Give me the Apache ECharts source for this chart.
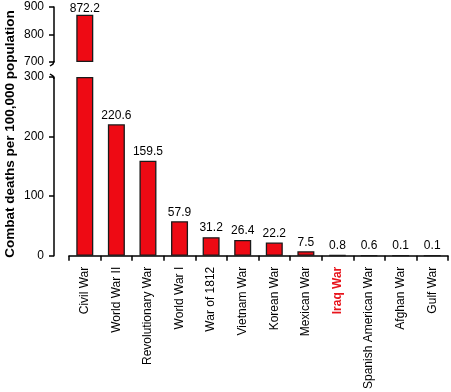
<!DOCTYPE html>
<html><head><meta charset="utf-8">
<script src="https://cdn.jsdelivr.net/npm/echarts@6/dist/echarts.min.js"></script>
<style>html,body{margin:0;padding:0;background:#fff}#c{width:451px;height:392px}</style>
</head><body><div id="c"></div>
<script>
var categories = ['Civil War','World War II','Revolutionary War','World War I','War of 1812','Vietnam War','Korean War','Mexican War','Iraq War','Spanish American War','Afghan War','Gulf War'];
var values = [872.2,220.6,159.5,57.9,31.2,26.4,22.2,7.5,0.8,0.6,0.1,0.1];
var topTicks = [700,800,900];
var bottomTicks = [0,100,200,300];
var highlight = 'Iraq War';

var lowMax = 300, highMin = 700;
var font = 'Liberation Sans, Arial, sans-serif';
var red = '#ee0a14';
var edge = '#1a1a1a';
var fs = 12;

var chart = echarts.init(document.getElementById('c'));
var lowData = values.map(function(v){ return Math.min(v, lowMax); });
var baseData = values.map(function(v){ return v > lowMax ? highMin : '-'; });
var highData = values.map(function(v){ return v > lowMax ? v - highMin : '-'; });

var itemStyle = {color: red, borderColor: edge, borderWidth: 1.3};
var axisLine = {show: true, lineStyle: {color: '#000', width: 1.5}};
chart.setOption({
  animation: false,
  grid: [
    {left: 69, right: 3, top: 7, height: 55},
    {left: 69, right: 3, top: 77, height: 180}
  ],
  xAxis: [
    {gridIndex: 0, type: 'category', data: categories, show: false},
    {gridIndex: 1, type: 'category', data: categories, offset: 5,
     axisLine: axisLine,
     axisTick: {show: true, length: 5, inside: false, lineStyle: {color: '#000', width: 1.5}},
     axisLabel: {rotate: 90, margin: 6, fontSize: fs, fontFamily: font, color: '#000', interval: 0,
       formatter: function(v){ return v === highlight ? '{h|' + v + '}' : v; },
       rich: {h: {color: '#e8141c', fontWeight: 'bold', fontSize: fs, fontFamily: font}}}}
  ],
  yAxis: [
    {gridIndex: 0, type: 'value', min: topTicks[0], max: topTicks[topTicks.length-1], interval: 100, offset: 15,
     axisLine: axisLine, axisTick: {show: true, length: 5, lineStyle: {color: '#000', width: 1.5}},
     axisLabel: {margin: 10, fontSize: fs, fontFamily: font, color: '#000'}, splitLine: {show: false}},
    {gridIndex: 1, type: 'value', min: bottomTicks[0], max: bottomTicks[bottomTicks.length-1], interval: 100, offset: 15,
     axisLine: axisLine, axisTick: {show: true, length: 5, lineStyle: {color: '#000', width: 1.5}},
     axisLabel: {margin: 10, fontSize: fs, fontFamily: font, color: '#000'}, splitLine: {show: false}}
  ],
  series: [
    {type: 'bar', xAxisIndex: 0, yAxisIndex: 0, stack: 'hi', data: baseData, barWidth: 17,
     itemStyle: {color: 'transparent', borderWidth: 0}, silent: true},
    {type: 'bar', xAxisIndex: 0, yAxisIndex: 0, stack: 'hi', data: highData, barWidth: 17,
     itemStyle: itemStyle,
     label: {show: true, position: 'top', distance: 0, fontSize: fs, fontFamily: font, color: '#000',
       formatter: function(p){ return values[p.dataIndex].toFixed(1); }}},
    {type: 'bar', xAxisIndex: 1, yAxisIndex: 1, data: lowData, barWidth: 17,
     itemStyle: itemStyle,
     label: {show: true, position: 'top', distance: 3, fontSize: fs, fontFamily: font, color: '#000',
       formatter: function(p){ return values[p.dataIndex] > lowMax ? '' : values[p.dataIndex].toFixed(1); }}}
  ],
  graphic: [
    {type: 'text', x: 10, y: 134, rotation: Math.PI/2,
     style: {text: 'Combat deaths per 100,000 population', font: 'bold 13.5px ' + font, fill: '#000',
       textAlign: 'center', textVerticalAlign: 'middle'}},
    {type: 'polyline', shape: {points: [[54, 61], [53, 64], [50, 66]]}, style: {stroke: '#000', lineWidth: 1.5, fill: null}},
    {type: 'polyline', shape: {points: [[50, 74], [53, 76], [54, 79]]}, style: {stroke: '#000', lineWidth: 1.5, fill: null}}
  ]
});
</script></body></html>
